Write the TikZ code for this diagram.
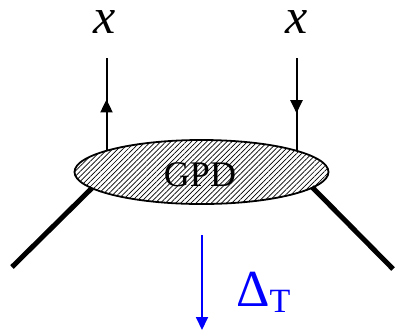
\documentclass[tikz,border=0pt]{standalone}
\usepackage{fontspec}
\setmainfont{Liberation Serif}
\usetikzlibrary{arrows.meta,decorations.markings,patterns.meta,shapes.geometric}
\begin{document}
\begin{tikzpicture}[x=1pt,y=-1pt,
  thinline/.style={line width=2pt},
  thickline/.style={line width=5pt},
  midarrow/.style={postaction={decorate},decoration={markings,
    mark=at position #1 with {\arrow{Triangle[length=13pt,width=12pt]}}}},
  lbl/.style={inner sep=0pt,anchor=base,font=\fontsize{50}{50}\selectfont}
]
\useasboundingbox (0,0) rectangle (395,333);
% thick external lines
\coordinate (LL) at (12,267);
\coordinate (LE) at (92,188);
\coordinate (RR) at (393,269);
\coordinate (RE) at (312,187);
\draw[thickline] (LL) -- (LE);
\draw[thickline] (RR) -- (RE);
% quark lines
\coordinate (QLt) at (106.5,58);
\coordinate (QLb) at (106.5,150);
\coordinate (QRt) at (296.5,58);
\coordinate (QRb) at (296.5,150);
\draw[thinline,midarrow=0.55] (QLb) -- (QLt);
\draw[thinline,midarrow=0.6] (QRt) -- (QRb);
% blob
\node[draw,line width=1.8pt,ellipse,minimum width=254pt,minimum height=64pt,inner sep=0pt,
  fill=white,pattern={Lines[angle=45,distance=3.6pt,line width=0.7pt]}] (gpd) at (201.5,172) {};
\node[inner sep=0pt,anchor=base,font=\fontsize{36}{36}\selectfont] (gpdl) at (200,186) {GPD};
% labels
\node[lbl] (xl) at (105,33) {\itshape x};
\node[lbl] (xr) at (297,33) {\itshape x};
% momentum transfer
\coordinate (Dt) at (202,235);
\coordinate (Db) at (202,330);
\draw[blue,line width=1.8pt,-{Triangle[length=13pt,width=12pt]}] (Dt) -- (Db);
\node[blue,anchor=base west,inner sep=0pt,font=\fontsize{52}{52}\selectfont] (delta) at (236,306) {Δ\raisebox{-6pt}{\fontsize{34}{34}\selectfont T}};
\end{tikzpicture}
\end{document}
